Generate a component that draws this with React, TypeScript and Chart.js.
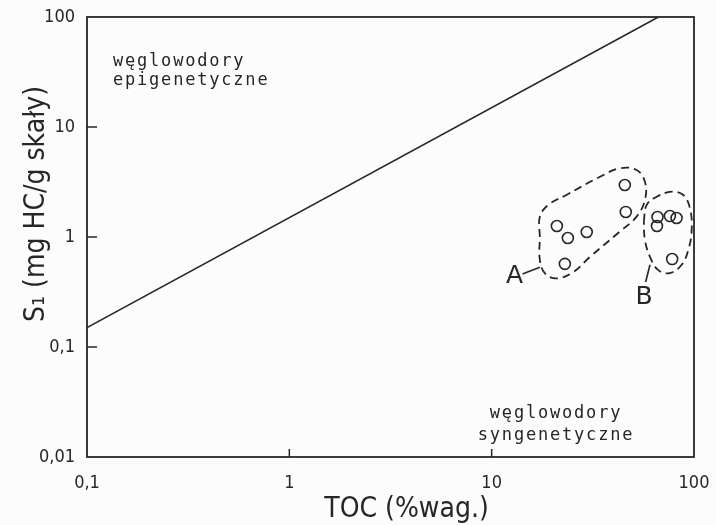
import React, { useEffect, useRef } from 'react';
import { Chart, registerables } from 'chart.js';

Chart.register(...registerables);

// ---- data ----
const xTicks = [0.1, 1, 10, 100];
const xTickLabels = ['0,1', '1', '10', '100'];
const yTicks = [0.01, 0.1, 1, 10, 100];
const yTickLabels = ['0,01', '0,1', '1', '10', '100'];

const xTitle = 'TOC (%wag.)';
const yTitle = 'S\u2081 (mg HC/g skały)';

// boundary line between epigenetic and syngenetic hydrocarbons
const boundaryX = [0.1, 66.7];
const boundaryY = [0.15, 100];

// group A samples
const groupAX = [45.5, 46, 21, 23.8, 29.5, 23];
const groupAY = [2.97, 1.69, 1.26, 0.98, 1.11, 0.57];
// group B samples
const groupBX = [66, 76, 82, 65.6, 78];
const groupBY = [1.52, 1.55, 1.49, 1.26, 0.63];

// dashed enclosures
const outlineAX = [17.3, 17.3, 19.0, 23.4, 34.3, 43.0, 52.0, 57.2, 57.2, 52.0, 43.0, 30.6, 25.3, 20.9, 18.3, 17.3, 17.3];
const outlineAY = [1.0, 1.53, 1.95, 2.41, 3.53, 4.21, 4.06, 3.18, 2.17, 1.53, 1.12, 0.66, 0.48, 0.42, 0.47, 0.62, 1.0];
const outlineBX = [56.5, 58.3, 65.4, 77.6, 88.5, 95.5, 97.4, 93.7, 86.9, 76.0, 66.6, 60.6, 57.2, 56.5];
const outlineBY = [1.38, 1.95, 2.32, 2.58, 2.41, 1.82, 1.16, 0.76, 0.56, 0.47, 0.50, 0.66, 0.94, 1.38];

// leader lines to group labels
const leaderAX = [14.2, 17.3];
const leaderAY = [0.46, 0.53];
const leaderBX = [57.7, 60.6];
const leaderBY = [0.39, 0.56];

// group labels
const groupLabels = ['A', 'B'];
const groupLabelX = [12.97, 56.6];
const groupLabelY = [0.442, 0.28];

// region labels
const epiLines = ['węglowodory', 'epigenetyczne'];
const epiX = 0.1344;
const epiY = [35.8, 24.1];
const synLines = ['węglowodory', 'syngenetyczne'];
const synX = 20.8;
const synY = [0.0226, 0.0143];

const INK = '#262626';
const FONT = '"DejaVu Sans", sans-serif';
const COND = '"DejaVu Sans Condensed", "DejaVu Sans", sans-serif';
const MONO = '"DejaVu Sans Mono", monospace';

const zip = (xs: number[], ys: number[]) => xs.map((x, i) => ({ x, y: ys[i] }));

const decorPlugin = {
  id: 'decor',
  beforeDraw(chart: any) {
    const { ctx, width, height } = chart;
    ctx.save();
    ctx.fillStyle = '#fcfcfc';
    ctx.fillRect(0, 0, width, height);
    ctx.restore();
  },
  afterDatasetsDraw(chart: any) {
    const { ctx, chartArea: a, scales } = chart;
    const xs = scales.x;
    const ys = scales.y;
    ctx.save();
    ctx.strokeStyle = INK;
    ctx.lineWidth = 1.8;
    ctx.strokeRect(a.left, a.top, a.right - a.left, a.bottom - a.top);
    ctx.lineWidth = 1.5;
    ctx.beginPath();
    xTicks.slice(1, -1).forEach((v) => {
      const px = xs.getPixelForValue(v);
      ctx.moveTo(px, a.bottom);
      ctx.lineTo(px, a.bottom - 8);
    });
    yTicks.slice(1, -1).forEach((v) => {
      const py = ys.getPixelForValue(v);
      ctx.moveTo(a.left, py);
      ctx.lineTo(a.left + 10, py);
    });
    ctx.stroke();

    ctx.fillStyle = INK;
    // region labels
    ctx.font = `17px ${MONO}`;
    (ctx as any).letterSpacing = '1.8px';
    ctx.textBaseline = 'alphabetic';
    ctx.textAlign = 'left';
    epiLines.forEach((t, i) => {
      ctx.fillText(t, xs.getPixelForValue(epiX), ys.getPixelForValue(epiY[i]));
    });
    ctx.textAlign = 'center';
    synLines.forEach((t, i) => {
      ctx.fillText(t, xs.getPixelForValue(synX), ys.getPixelForValue(synY[i]));
    });
    (ctx as any).letterSpacing = '0px';

    // group labels
    ctx.font = `25px ${FONT}`;
    ctx.textAlign = 'center';
    ctx.textBaseline = 'middle';
    groupLabels.forEach((t, i) => {
      ctx.fillText(t, xs.getPixelForValue(groupLabelX[i]), ys.getPixelForValue(groupLabelY[i]));
    });

    // axis titles
    ctx.font = `28px ${COND}`;
    ctx.textBaseline = 'alphabetic';
    ctx.textAlign = 'center';
    ctx.fillText(xTitle, (a.left + a.right) / 2 + 16, a.bottom + 60);
    ctx.translate(44, (a.top + a.bottom) / 2 - 33);
    ctx.rotate(-Math.PI / 2);
    ctx.fillText(yTitle, 0, 0);
    ctx.restore();
  },
};

export default function App() {
  const ref = useRef<HTMLCanvasElement | null>(null);

  useEffect(() => {
    if (!ref.current) return;
    const lineDs = (data: any[], extra: any = {}) => ({
      data,
      showLine: true,
      pointRadius: 0,
      borderColor: INK,
      borderWidth: 1.6,
      backgroundColor: 'transparent',
      fill: false,
      ...extra,
    });
    const pointDs = (data: any[]) => ({
      data,
      showLine: false,
      pointRadius: 5.5,
      pointBorderWidth: 1.6,
      pointBorderColor: INK,
      pointBackgroundColor: 'transparent',
      borderColor: INK,
      backgroundColor: 'transparent',
    });
    const chart = new Chart(ref.current, {
      type: 'scatter',
      data: {
        datasets: [
          lineDs(zip(boundaryX, boundaryY)),
          lineDs(zip(outlineAX, outlineAY), { borderDash: [8, 5], tension: 0.4, borderWidth: 1.8 }),
          lineDs(zip(outlineBX, outlineBY), { borderDash: [8, 5], tension: 0.4, borderWidth: 1.8 }),
          lineDs(zip(leaderAX, leaderAY)),
          lineDs(zip(leaderBX, leaderBY)),
          pointDs(zip(groupAX, groupAY)),
          pointDs(zip(groupBX, groupBY)),
        ] as any,
      },
      options: {
        animation: false,
        responsive: false,
        maintainAspectRatio: false,
        layout: { padding: { top: 17, right: 22, left: 0, bottom: 0 } },
        plugins: { legend: { display: false }, tooltip: { enabled: false } },
        scales: {
          x: {
            type: 'logarithmic',
            min: 0.1,
            max: 100,
            afterBuildTicks: (s: any) => {
              s.ticks = xTicks.map((value) => ({ value }));
            },
            afterFit: (s: any) => {
              s.height = 68;
              s.paddingLeft = 0;
              s.paddingRight = 0;
            },
            grid: { display: false, drawTicks: false },
            border: { display: false },
            ticks: {
              autoSkip: false,
              maxRotation: 0,
              padding: 16,
              color: INK,
              font: { family: COND, size: 18 },
              callback: (v: any) => {
                const i = xTicks.indexOf(Number(v));
                return i >= 0 ? xTickLabels[i] : '';
              },
            },
          },
          y: {
            type: 'logarithmic',
            min: 0.01,
            max: 100,
            afterBuildTicks: (s: any) => {
              s.ticks = yTicks.map((value) => ({ value }));
            },
            afterFit: (s: any) => {
              s.width = 87;
              s.paddingTop = 0;
              s.paddingBottom = 0;
            },
            grid: { display: false, drawTicks: false },
            border: { display: false },
            ticks: {
              autoSkip: false,
              padding: 12,
              color: INK,
              font: { family: COND, size: 18 },
              callback: (v: any) => {
                const i = yTicks.indexOf(Number(v));
                return i >= 0 ? yTickLabels[i] : '';
              },
            },
          },
        },
      } as any,
      plugins: [decorPlugin],
    });
    return () => chart.destroy();
  }, []);

  return (
    <div style={{ position: 'fixed', left: 0, top: 0, width: 716, height: 525, background: '#fcfcfc' }}>
      <canvas ref={ref} width={716} height={525} style={{ display: 'block', width: 716, height: 525 }} />
    </div>
  );
}
